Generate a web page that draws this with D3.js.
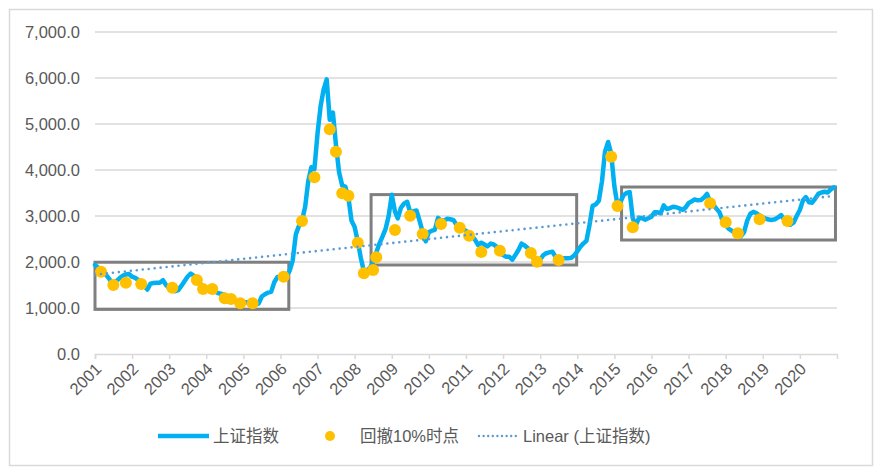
<!DOCTYPE html>
<html>
<head>
<meta charset="utf-8">
<script src="https://cdn.jsdelivr.net/npm/d3@7"></script>
<style>
  html, body { margin: 0; padding: 0; background: #fff; }
  svg { display: block; }
  text { font-family: "Liberation Sans", Arial, "Noto Sans CJK SC", sans-serif; fill: #595959; }
</style>
</head>
<body>
<svg id="chart" width="883" height="474"></svg>
<script>
// ---- data ----
const seriesName = "上证指数";
const dotsName = "回撤10%时点";
const trendName = "Linear (上证指数)";
const yearLabels = ["2001","2002","2003","2004","2005","2006","2007","2008","2009","2010",
                    "2011","2012","2013","2014","2015","2016","2017","2018","2019","2020"];
const yTicks = [0, 1000, 2000, 3000, 4000, 5000, 6000, 7000];

// monthly index level, Jan 2001 .. Dec 2020 (240 values)
const indexValues = [
  1935,1880,1835,1760,1690,1600,1540,1590,1650,1700,1730,1740,
  1680,1655,1610,1570,1480,1400,1530,1545,1550,1550,1605,1500,
  1430,1400,1365,1390,1480,1580,1680,1750,1700,1590,1540,1420,
  1390,1390,1390,1350,1320,1305,1285,1240,1190,1150,1110,1105,
  1115,1125,1130,1105,1070,1100,1250,1300,1335,1350,1560,1670,
  1690,1685,1680,1810,2030,2600,2780,2900,3200,3750,4060,4020,
  4800,5400,5740,5970,5090,5250,4550,3950,3660,3640,3400,2900,
  2760,2450,2100,1800,1815,1880,2000,2200,2400,2550,2720,3000,
  3460,3100,2950,3180,3270,3310,3080,3100,3120,2900,2650,2450,
  2650,2680,2700,2960,2900,2900,2940,2930,2910,2800,2760,2710,
  2680,2630,2570,2480,2370,2420,2380,2340,2400,2380,2330,2240,
  2150,2115,2115,2050,2150,2260,2400,2360,2300,2180,2060,1975,
  2050,2150,2190,2210,2225,2110,2085,2080,2080,2080,2090,2140,
  2230,2330,2400,2460,2800,3220,3250,3330,3750,4400,4610,4350,
  3650,3230,3300,3450,3500,3520,2950,2800,2960,2950,2920,2950,
  2985,3080,3080,3060,3230,3150,3170,3200,3190,3165,3135,3180,
  3280,3320,3360,3340,3345,3400,3480,3310,3250,3160,3080,2900,
  2800,2720,2680,2640,2600,2560,2650,2900,3050,3090,3060,3010,
  2970,2940,2925,2915,2930,2970,3020,2920,2830,2810,2860,3000,
  3130,3340,3410,3300,3290,3380,3480,3510,3528,3510,3580,3624
];

// 10% drawdown points: month offset from Jan 2001, level
const drawdownMonths = [2,6,10,15,25,33,35,38,42,44,47,51,61,67,71,76,78,80,82,85,87,90,91,
                        97,102,106,112,118,121,125,131,141,143,150,167,169,174,199,204,208,215,224];
const drawdownValues = [1789,1500,1550,1522,1441,1609,1413,1413,1211,1196,1102,1102,1680,2891,3841,4884,4398,3493,3441,2420,1754,1826,2102,
                        2696,3007,2609,2826,2746,2572,2217,2246,2196,2007,2043,4289,3217,2754,3275,2862,2623,2928,2891];

// linear trend: value at first and last month
const trendMonths = [0, 239];
const trendValues = [1725, 3435];

// highlighted ranges: start month, end month, low, high
const boxStart = [0, 89.3, 170.3];
const boxEnd   = [62.7, 155.8, 239.5];
const boxLow   = [970, 1935, 2478];
const boxHigh  = [1995, 3465, 3630];

// ---- drawing ----
const svg = d3.select("#chart");
const monthDate = m => new Date(2001, 0, 1 + Math.round(m * 30.4375));
const x = d3.scaleTime().domain([new Date(2001,0,1), new Date(2021,0,1)]).range([95, 837]);
const y = d3.scaleLinear().domain([0, 7000]).range([354, 32]);

// outer border
svg.append("rect").attr("x", 9.5).attr("y", 9.5).attr("width", 863).attr("height", 456)
  .attr("fill", "none").attr("stroke", "#d9d9d9").attr("stroke-width", 1.5);

// gridlines
svg.append("g").selectAll("line").data(yTicks.filter(d => d > 0)).join("line")
  .attr("x1", x.range()[0]).attr("x2", x.range()[1])
  .attr("y1", d => y(d)).attr("y2", d => y(d))
  .attr("stroke", "#d9d9d9").attr("stroke-width", 1.3);

// y labels
svg.append("g").selectAll("text").data(yTicks).join("text")
  .attr("x", 80).attr("y", d => y(d)).attr("dy", "0.35em")
  .attr("text-anchor", "end").attr("font-size", 16.5)
  .text(d => d3.format(",.1f")(d));

// x axis
const yearDates = yearLabels.map(s => new Date(+s, 0, 1));
const xAxis = d3.axisBottom(x).tickValues(yearDates).tickSize(5).tickFormat((d, i) => yearLabels[i]);
const gx = svg.append("g").attr("transform", `translate(0,${y(0)})`).call(xAxis);
gx.select(".domain").attr("stroke", "#d9d9d9").attr("stroke-width", 1.5);
gx.selectAll(".tick line").attr("stroke", "#d9d9d9").attr("stroke-width", 1.5);
gx.selectAll(".tick text")
  .attr("font-size", 16.5).attr("fill", "#595959")
  .attr("font-family", "'Liberation Sans', Arial, sans-serif")
  .attr("text-anchor", "end")
  .attr("x", 0).attr("y", 0).attr("dy", 0)
  .attr("transform", "translate(7,16) rotate(-45)");

// boxes
svg.append("g").selectAll("rect").data(boxStart.map((s, i) => i)).join("rect")
  .attr("x", i => x(monthDate(boxStart[i])))
  .attr("y", i => y(boxHigh[i]))
  .attr("width", i => x(monthDate(boxEnd[i])) - x(monthDate(boxStart[i])))
  .attr("height", i => y(boxLow[i]) - y(boxHigh[i]))
  .attr("fill", "none").attr("stroke", "#7f7f7f").attr("stroke-width", 3);

// main line
const lineData = indexValues.map((v, i) => ({ d: new Date(2001, i, 1), v }));
svg.append("path").datum(lineData)
  .attr("d", d3.line().x(p => x(p.d)).y(p => y(p.v)))
  .attr("fill", "none").attr("stroke", "#00b0f0").attr("stroke-width", 4.5)
  .attr("stroke-linejoin", "round").attr("stroke-linecap", "round");

// drawdown dots
svg.append("g").selectAll("circle").data(drawdownMonths.map((m, i) => ({ d: new Date(2001, m, 1), v: drawdownValues[i] })))
  .join("circle")
  .attr("cx", p => x(p.d)).attr("cy", p => y(p.v)).attr("r", 6)
  .attr("fill", "#ffc000");

// trend line
svg.append("path").datum(trendMonths.map((m, i) => ({ d: new Date(2001, m, 1), v: trendValues[i] })))
  .attr("d", d3.line().x(p => x(p.d)).y(p => y(p.v)))
  .attr("fill", "none").attr("stroke", "#5b9bd5").attr("stroke-width", 2.6)
  .attr("stroke-dasharray", "0 6").attr("stroke-linecap", "round");

// legend
const lg = svg.append("g").attr("transform", "translate(0,436)");
lg.append("line").attr("x1", 158).attr("x2", 209).attr("y1", 0).attr("y2", 0)
  .attr("stroke", "#00b0f0").attr("stroke-width", 4.5);
lg.append("text").attr("x", 213).attr("y", 0).attr("dy", "0.36em").attr("font-size", 16.5)
  .attr("font-family", "'Noto Sans CJK SC', sans-serif").text(seriesName);
lg.append("circle").attr("cx", 330).attr("cy", 0).attr("r", 5).attr("fill", "#ffc000");
lg.append("text").attr("x", 360).attr("y", 0).attr("dy", "0.36em").attr("font-size", 16.5)
  .attr("font-family", "'Noto Sans CJK SC', sans-serif").text(dotsName);
lg.append("line").attr("x1", 479).attr("x2", 519).attr("y1", 0).attr("y2", 0)
  .attr("stroke", "#5b9bd5").attr("stroke-width", 2.4)
  .attr("stroke-dasharray", "0 4.6").attr("stroke-linecap", "round");
lg.append("text").attr("x", 523).attr("y", 0).attr("dy", "0.36em").attr("font-size", 16.5)
  .attr("font-family", "'Noto Sans CJK SC', sans-serif").text(trendName);
</script>
</body>
</html>
